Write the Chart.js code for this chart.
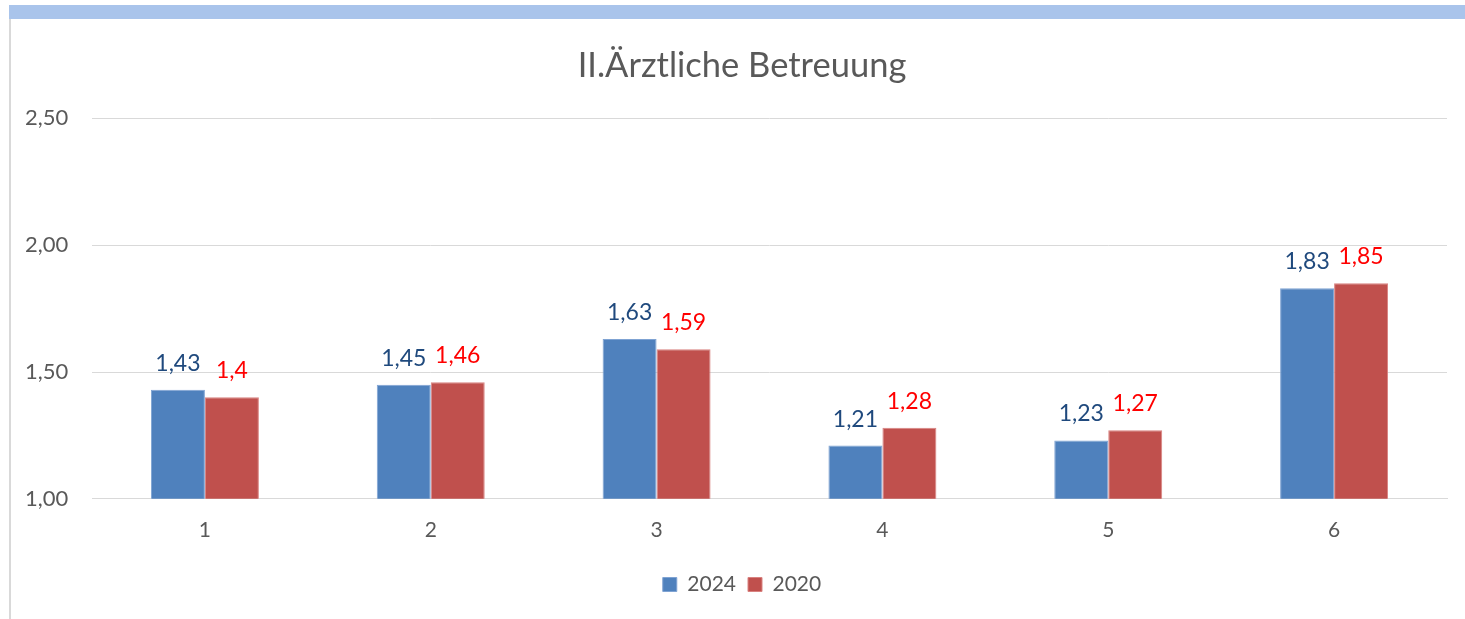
<!DOCTYPE html>
<html>
<head>
<meta charset="utf-8">
<script src="https://cdn.jsdelivr.net/npm/chart.js@4"></script>
<style>
  html, body { margin: 0; padding: 0; background: #fff; }
  #wrap { position: relative; width: 1465px; height: 619px; overflow: hidden; }
  #band { position: absolute; left: 9px; top: 5px; width: 1456px; height: 14px; background: #A9C4EB; }
  #lborder { position: absolute; left: 9px; top: 19px; width: 2px; height: 600px; background: #D9D9D9; }
  canvas { position: absolute; left: 0; top: 0; }
</style>
</head>
<body>
<div id="wrap">
  <div id="band"></div>
  <div id="lborder"></div>
  <canvas id="c" width="1465" height="619"></canvas>
</div>
<script>
const titleText = "II.Ärztliche Betreuung";
const categories = ["1", "2", "3", "4", "5", "6"];
const seriesNames = ["2024", "2020"];
const values2024 = [1.43, 1.45, 1.63, 1.21, 1.23, 1.83];
const values2020 = [1.4, 1.46, 1.59, 1.28, 1.27, 1.85];
const yTicks = [1.0, 1.5, 2.0, 2.5];

const FONT = "Lato, 'Open Sans', sans-serif";
const labelColors = ["#1F497D", "#FF0000"];

const dataLabels = {
  id: "dataLabels",
  afterDatasetsDraw(chart) {
    const ctx = chart.ctx;
    ctx.save();
    ctx.font = "23px " + FONT;
    ctx.textAlign = "center";
    ctx.textBaseline = "alphabetic";
    chart.data.datasets.forEach((ds, di) => {
      const meta = chart.getDatasetMeta(di);
      ctx.fillStyle = labelColors[di];
      meta.data.forEach((el, i) => {
        const txt = String(ds.data[i]).replace(".", ",");
        ctx.fillText(txt, el.x, el.y - 19);
      });
    });
    ctx.restore();
  }
};

new Chart(document.getElementById("c"), {
  type: "bar",
  data: {
    labels: categories,
    datasets: [
      { label: seriesNames[0], data: values2024, backgroundColor: "#4F81BD", borderColor: "#7FA3D3", borderWidth: 1 },
      { label: seriesNames[1], data: values2020, backgroundColor: "#C0504D", borderColor: "#D98280", borderWidth: 1 }
    ]
  },
  options: {
    responsive: false,
    animation: false,
    layout: { padding: { left: 37, right: 18, top: 0, bottom: 14 } },
    datasets: { bar: { categoryPercentage: 0.478, barPercentage: 1.0 } },
    plugins: {
      title: {
        display: true, text: titleText, color: "#595959",
        font: { family: FONT, size: 34.5, weight: "normal" },
        padding: { top: 45, bottom: 32 }
      },
      legend: {
        position: "bottom",
        labels: {
          color: "#595959", font: { family: FONT, size: 21 },
          boxWidth: 14, boxHeight: 14, padding: 12
        }
      },
      tooltip: { enabled: false }
    },
    scales: {
      x: {
        grid: { display: false, drawTicks: false },
        border: { display: true, color: "#D9D9D9", width: 1 },
        ticks: { color: "#595959", font: { family: FONT, size: 21 }, padding: 19 }
      },
      y: {
        min: 1, max: 2.5,
        afterFit(scale) { scale.width = 55; },
        afterBuildTicks(scale) { scale.ticks = yTicks.map(v => ({ value: v })); },
        grid: { color: "#D9D9D9", drawTicks: false },
        border: { display: false },
        ticks: {
          mirror: true, crossAlign: "near",
          color: "#595959", font: { family: FONT, size: 22 }, padding: -67,
          callback: v => Number(v).toFixed(2).replace(".", ",")
        }
      }
    }
  },
  plugins: [dataLabels]
});
</script>
</body>
</html>
